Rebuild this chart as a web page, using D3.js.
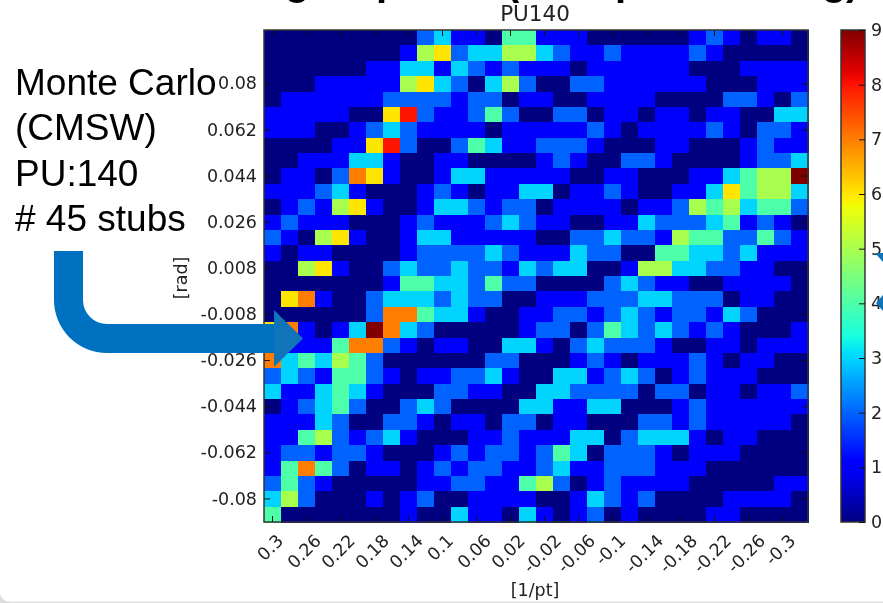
<!DOCTYPE html>
<html>
<head>
<meta charset="utf-8">
<script src="https://d3js.org/d3.v7.min.js"></script>
<style>
	html, body { margin: 0; padding: 0; background: #fff; overflow: hidden; }
	svg { display: block; filter: blur(0.45px); }
	.plot text { font-family: "DejaVu Sans", sans-serif; font-size: 17.5px; fill: #222; }
	.plot .domain { display: none; }
	.plot .tick line { stroke: #111; }
	.note text { font-family: "Liberation Sans", Arial, sans-serif; font-size: 37px; fill: #000; }
	.cut text { font-family: "Liberation Sans", Arial, sans-serif; font-size: 40px; font-weight: bold; fill: #000; }
</style>
</head>
<body>
<svg id="chart" width="883" height="603"></svg>
<script>
// 1/pt labels, one for every second column
const X_LABELS = ['0.3', '0.26', '0.22', '0.18', '0.14', '0.1', '0.06', '0.02', '-0.02', '-0.06', '-0.1', '-0.14', '-0.18', '-0.22', '-0.26', '-0.3'];
// rad labels, one for every third row starting at row 3
const Y_LABELS = ['0.08', '0.062', '0.044', '0.026', '0.008', '-0.008', '-0.026', '-0.044', '-0.062', '-0.08'];
const CBAR_TICKS = [0, 1, 2, 3, 4, 5, 6, 7, 8, 9];
const NOTE_LINES = ['Monte Carlo', '(CMSW)', 'PU:140', '# 45 stubs'];

// stub count per cell, top row first
const COUNTS = [
	[0,0,0,0,0,0,0,0,0,2,3,1,1,0,4,4,1,1,1,0,0,0,0,0,0,1,2,1,0,1,1,0],
	[0,0,0,0,0,0,0,0,1,5,6,2,3,3,5,5,3,2,1,1,2,1,1,1,1,2,1,0,0,0,0,0],
	[0,0,0,0,0,0,1,1,3,3,1,3,2,1,2,1,1,1,0,1,1,1,1,1,1,0,0,0,1,1,1,1],
	[0,0,0,1,1,1,1,1,5,6,3,2,0,3,5,2,0,0,2,2,1,1,1,1,1,1,0,0,0,1,1,1],
	[0,1,1,1,1,1,1,2,2,2,2,1,2,2,0,1,1,0,0,1,1,1,1,0,0,0,0,2,2,1,0,2],
	[1,1,1,1,1,0,0,6,8,2,1,1,2,4,2,0,0,2,2,0,1,1,0,1,1,0,1,1,0,0,3,3],
	[1,1,1,0,0,1,2,3,2,1,1,1,1,0,1,1,1,1,1,2,1,0,1,1,1,1,2,1,0,2,2,1],
	[0,0,0,0,1,1,6,8,2,0,0,2,4,3,1,1,2,2,2,1,0,0,0,1,1,0,0,0,1,2,1,1],
	[0,0,1,1,1,3,3,1,0,0,1,1,0,0,0,0,1,2,1,0,0,2,2,1,0,0,0,0,1,2,2,3],
	[0,1,1,0,2,7,6,1,0,0,1,3,3,1,1,1,1,1,0,0,1,1,0,0,0,1,1,3,4,5,5,9],
	[1,1,1,2,3,1,0,0,0,1,2,1,0,1,1,3,3,0,1,1,2,1,0,0,1,1,3,6,4,5,5,3],
	[0,1,2,1,5,6,1,0,0,1,3,3,2,1,2,2,0,1,1,1,1,0,1,1,2,5,4,5,3,4,4,2],
	[1,2,1,1,1,0,0,0,1,2,1,1,1,2,3,2,1,1,0,0,1,1,3,2,2,2,3,4,1,2,1,0],
	[2,1,0,5,6,1,0,0,1,3,3,1,1,1,1,1,0,0,2,2,3,2,2,1,5,4,4,2,2,4,2,1],
	[1,0,1,1,0,0,0,0,1,2,2,2,2,3,2,1,1,1,3,2,2,0,0,4,4,3,3,2,3,1,1,1],
	[0,0,5,6,1,0,0,2,3,2,2,3,2,2,1,3,2,3,3,0,0,1,5,5,3,3,2,2,1,1,0,0],
	[0,0,0,0,0,0,0,1,4,4,3,3,2,4,2,2,0,0,0,0,2,3,2,1,1,0,0,1,1,1,1,0],
	[0,6,7,1,0,0,2,3,3,3,2,3,2,2,0,0,1,1,1,2,2,2,3,3,2,2,2,0,1,1,0,0],
	[0,0,0,0,0,0,2,7,7,4,3,3,1,0,0,1,1,2,2,1,2,3,2,1,2,2,1,3,2,0,0,0],
	[6,7,1,0,1,3,9,7,3,2,0,0,0,0,0,1,2,2,0,2,4,3,2,3,2,1,2,1,0,0,0,1],
	[1,1,1,1,4,7,7,2,1,0,1,1,0,0,3,3,1,0,2,3,2,2,2,1,0,0,1,1,0,1,1,1],
	[7,3,4,3,5,4,2,0,0,0,0,0,0,2,2,0,0,0,1,2,1,0,1,1,1,2,1,0,1,1,0,0],
	[2,3,2,1,4,4,2,1,0,1,1,2,2,3,1,0,0,3,3,1,2,3,2,0,1,2,1,1,1,0,0,0],
	[3,1,1,3,4,3,1,0,0,0,2,2,1,1,0,0,3,3,2,2,2,2,0,2,2,0,1,1,0,1,1,2],
	[0,1,2,3,4,2,0,0,2,3,2,0,0,0,0,3,3,1,1,3,3,0,0,0,1,2,1,1,1,1,1,1],
	[1,1,1,3,2,0,0,2,2,1,0,1,1,0,2,2,0,1,1,0,0,0,2,2,1,2,1,1,1,1,1,0],
	[1,1,4,5,2,1,2,3,1,0,0,0,1,1,2,1,1,1,3,3,0,2,3,3,3,1,0,1,1,0,0,0],
	[1,2,2,1,2,2,1,0,0,0,1,2,1,2,2,1,2,4,3,0,2,2,2,1,0,1,1,1,0,0,0,0],
	[1,4,7,4,2,0,1,1,0,1,2,1,2,2,1,1,2,3,1,1,2,2,2,1,1,1,0,0,0,0,0,0],
	[2,4,2,1,0,0,0,0,0,1,1,2,2,1,1,4,5,2,0,1,2,1,1,1,1,0,0,0,0,0,1,1],
	[3,5,2,0,0,0,1,0,1,2,0,0,1,1,1,1,0,0,1,3,2,1,2,0,0,0,0,1,1,1,1,0],
	[4,0,0,0,0,0,0,0,1,0,0,3,1,1,0,3,1,0,1,2,0,1,0,0,0,0,1,1,0,0,0,0]
];

const PLOT = { left: 264, right: 808, top: 30, bottom: 522 };
const CBAR = { left: 841, right: 865 };

// matplotlib "jet", one piecewise scale per channel
const jetR = d3.scaleLinear().domain([0, 0.35, 0.66, 0.89, 1]).range([0, 0, 1, 1, 0.5]);
const jetG = d3.scaleLinear().domain([0, 0.125, 0.375, 0.64, 0.91, 1]).range([0, 0, 1, 1, 0, 0]);
const jetB = d3.scaleLinear().domain([0, 0.11, 0.34, 0.65, 1]).range([0.5, 1, 1, 0, 0]);
const jet = t => d3.rgb(jetR(t) * 255, jetG(t) * 255, jetB(t) * 255).formatHex();

const svg = d3.select('#chart');

const colour = d3.scaleLinear().domain([0, 9]).range([0, 1]);
const x = d3.scaleBand().domain(d3.range(COUNTS[0].length)).range([PLOT.left, PLOT.right]);
const y = d3.scaleBand().domain(d3.range(COUNTS.length)).range([PLOT.top, PLOT.bottom]);
const barY = d3.scaleLinear().domain([0, 9]).range([PLOT.bottom, PLOT.top]);

const xTicks = X_LABELS.map((d, i) => i * 2);
const yTicks = Y_LABELS.map((d, i) => (i + 1) * 3);

const plot = svg.append('g').attr('class', 'plot');

// heatmap cells
plot.append('g')
	.attr('shape-rendering', 'crispEdges')
	.selectAll('g')
	.data(COUNTS)
	.enter().append('g')
	.selectAll('rect')
	.data((row, r) => row.map((v, c) => ({ r: r, c: c, v: v })))
	.enter().append('rect')
	.attr('x', d => x(d.c))
	.attr('y', d => y(d.r))
	.attr('width', x.bandwidth() + 0.5)
	.attr('height', y.bandwidth() + 0.5)
	.attr('fill', d => jet(colour(d.v)));

// axes, ticks point inwards on all four sides
const bottomAxis = plot.append('g')
	.attr('transform', `translate(0,${PLOT.bottom})`)
	.call(d3.axisBottom(x).tickValues(xTicks).tickSize(-6).tickFormat((d, i) => X_LABELS[i]));
plot.append('g')
	.attr('transform', `translate(0,${PLOT.top})`)
	.call(d3.axisTop(x).tickValues(xTicks).tickSize(-6).tickFormat(''));
plot.append('g')
	.attr('transform', `translate(${PLOT.left},0)`)
	.call(d3.axisLeft(y).tickValues(yTicks).tickSize(-6).tickPadding(7).tickFormat((d, i) => Y_LABELS[i]));
plot.append('g')
	.attr('transform', `translate(${PLOT.right},0)`)
	.call(d3.axisRight(y).tickValues(yTicks).tickSize(-6).tickFormat(''));

// rotated x labels: centred under the tick, tops lined up
bottomAxis.selectAll('text').each(function() {
	const label = d3.select(this);
	const len = this.getComputedTextLength();
	const dy = 10 + (len + 17) * Math.SQRT1_2 / 2;
	label.attr('text-anchor', 'middle')
		.attr('dy', '0.32em')
		.attr('y', 0)
		.attr('transform', `translate(-2,${dy}) rotate(-45)`);
});

plot.append('rect')
	.attr('x', PLOT.left).attr('y', PLOT.top)
	.attr('width', PLOT.right - PLOT.left).attr('height', PLOT.bottom - PLOT.top)
	.attr('fill', 'none').attr('stroke', '#333').attr('stroke-width', 1.5);

plot.append('text')
	.attr('x', (PLOT.left + PLOT.right) / 2 - 1).attr('y', 21)
	.attr('text-anchor', 'middle')
	.style('font-size', '21.5px')
	.text('PU140');
plot.append('text')
	.attr('x', (PLOT.left + PLOT.right) / 2 - 1).attr('y', 596)
	.attr('text-anchor', 'middle')
	.text('[1/pt]');
plot.append('text')
	.attr('transform', 'translate(187,278) rotate(-90)')
	.attr('text-anchor', 'middle')
	.text('[rad]');

// colour bar
const grad = svg.append('defs').append('linearGradient')
	.attr('id', 'jet').attr('x1', 0).attr('x2', 0).attr('y1', 1).attr('y2', 0);
grad.selectAll('stop')
	.data(d3.range(0, 1.0001, 1 / 64))
	.enter().append('stop')
	.attr('offset', d => d)
	.attr('stop-color', d => jet(Math.min(d, 1)));

plot.append('rect')
	.attr('x', CBAR.left).attr('y', PLOT.top)
	.attr('width', CBAR.right - CBAR.left).attr('height', PLOT.bottom - PLOT.top)
	.attr('fill', 'url(#jet)').attr('stroke', '#333').attr('stroke-width', 1.5);
plot.append('g')
	.attr('transform', `translate(${CBAR.right},0)`)
	.call(d3.axisRight(barY).tickValues(CBAR_TICKS).tickSize(-6).tickPadding(6).tickFormat(d3.format('d')));

// text pasted on the slide
svg.append('g').attr('class', 'note')
	.selectAll('text')
	.data(NOTE_LINES)
	.enter().append('text')
	.attr('x', 15)
	.attr('y', (d, i) => 95 + i * 45.3)
	.text(d => d);

// bent arrow
svg.append('path')
	.attr('d', 'M54,251 H83 V300 A24,24 0 0 0 107,324 H274 V353 H107 A53,53 0 0 1 54,300 Z')
	.attr('fill', '#0070c0');
svg.append('path')
	.attr('d', 'M274,310 L303,338.5 L274,367 Z')
	.attr('fill', '#0f74b8');

// tips of a second arrow coming in from the right
svg.append('path').attr('d', 'M875,253 H883 V262 Z').attr('fill', '#0f74b8');
svg.append('path').attr('d', 'M876,303 L883,295 V311 Z').attr('fill', '#0f74b8');

// slide title cut by the crop, only descenders left
svg.append('g').attr('class', 'cut')
	.selectAll('text')
	.data([['g', 285], ['p', 376], ['(', 506], ['p', 615], ['g', 822], [')', 846]])
	.enter().append('text')
	.attr('x', d => d[1])
	.attr('y', -5)
	.text(d => d[0]);

// bottom edge of the slide
svg.append('rect').attr('x', 0).attr('y', 601.5).attr('width', 883).attr('height', 2).attr('fill', '#e2e2e2');
svg.append('path').attr('d', 'M0,594 Q2,601 11,603 H0 Z').attr('fill', '#dcdcdc');
</script>
</body>
</html>
